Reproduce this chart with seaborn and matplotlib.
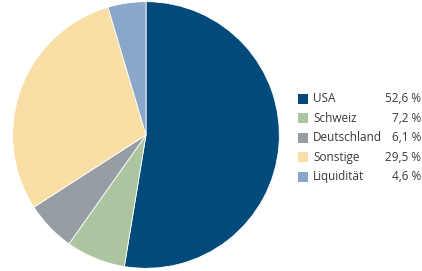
import matplotlib
matplotlib.use("Agg")
import matplotlib.pyplot as plt
from matplotlib.patches import Rectangle
import seaborn as sns

sns.set_style("white")
plt.rcParams["font.family"] = ["Open Sans", "DejaVu Sans"]

regions = ["USA", "Schweiz", "Deutschland", "Sonstige", "Liquidität"]
shares = [52.6, 7.2, 6.1, 29.5, 4.6]
colors = ["#024a7a", "#abc5a1", "#969da3", "#f9dea6", "#8aa6c8"]

fig = plt.figure(figsize=(4.22, 2.71), dpi=100)
ax = fig.add_axes([12 / 422, 2 / 271, 268 / 422, 268 / 271])
ax.pie(shares, colors=colors, startangle=90, counterclock=False,
       wedgeprops=dict(linewidth=0.6, edgecolor="white"))
ax.set_xlim(-1.005, 1.005)
ax.set_ylim(-1.005, 1.005)
ax.set_aspect("equal")

# legend with right-aligned values
y0, dy = 98.5, 19.6
for i, (lab, val, col) in enumerate(zip(regions, shares, colors)):
    y = y0 + i * dy
    fig.patches.append(Rectangle((298 / 422, 1 - (y + 5) / 271), 10 / 422, 10 / 271,
                                 transform=fig.transFigure, facecolor=col,
                                 edgecolor="none"))
    fig.text(313 / 422, 1 - y / 271, lab, va="center", ha="left",
             fontsize=8.5, color="#3a3a3a")
    fig.text(421 / 422, 1 - y / 271, f"{val:.1f} %".replace(".", ","),
             va="center", ha="right", fontsize=8.5, color="#3a3a3a")

fig.savefig("out.png", dpi=100)
